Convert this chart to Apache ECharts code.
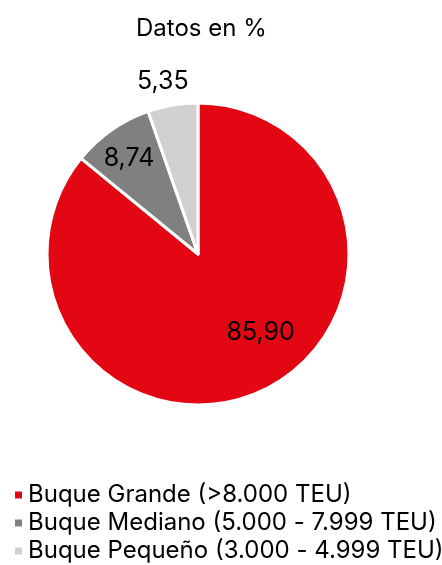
<!DOCTYPE html>
<html>
<head>
<meta charset="utf-8">
<script src="https://cdn.jsdelivr.net/npm/echarts@6/dist/echarts.min.js"></script>
<style>
  html, body { margin: 0; padding: 0; background: #fff; }
  #chart { width: 442px; height: 565px; }
</style>
</head>
<body>
<div id="chart"></div>
<script>
// categorias y valores (%)
var categories = ['Buque Grande (>8.000 TEU)', 'Buque Mediano (5.000 - 7.999 TEU)', 'Buque Pequeño (3.000 - 4.999 TEU)'];
var values = [85.90, 8.74, 5.35];
var colors = ['#e30613', '#808080', '#d1d0d1'];
// desplazamiento de las etiquetas
var labelOffsets = [[29, 8], [-24, -31], [-22, -95]];

var chart = echarts.init(document.getElementById('chart'));

var data = categories.map(function (name, i) {
  return {
    name: name,
    value: values[i],
    itemStyle: { color: colors[i] },
    label: { offset: labelOffsets[i] }
  };
});

chart.setOption({
  animation: false,
  textStyle: { fontFamily: 'Inter, "Liberation Sans", sans-serif' },
  title: {
    text: 'Datos en %',
    left: 131,
    top: 12,
    textStyle: { fontSize: 24, fontWeight: 'normal', color: '#000' }
  },
  legend: {
    orient: 'vertical',
    left: 8,
    top: 478,
    height: 100,
    icon: 'rect',
    itemWidth: 9,
    itemHeight: 9,
    itemGap: 4,
    textStyle: { fontSize: 24, color: '#000', lineHeight: 24 },
    data: categories
  },
  series: [
    {
      type: 'pie',
      center: [198, 254],
      radius: [0, 151],
      startAngle: 90,
      clockwise: true,
      itemStyle: { borderColor: '#fff', borderWidth: 3 },
      label: {
        show: true,
        position: 'inside',
        fontSize: 25,
        color: '#000',
        formatter: function (p) {
          return p.value.toFixed(2).replace('.', ',');
        }
      },
      labelLine: { show: false },
      emphasis: { disabled: true },
      data: data
    }
  ]
});
</script>
</body>
</html>
